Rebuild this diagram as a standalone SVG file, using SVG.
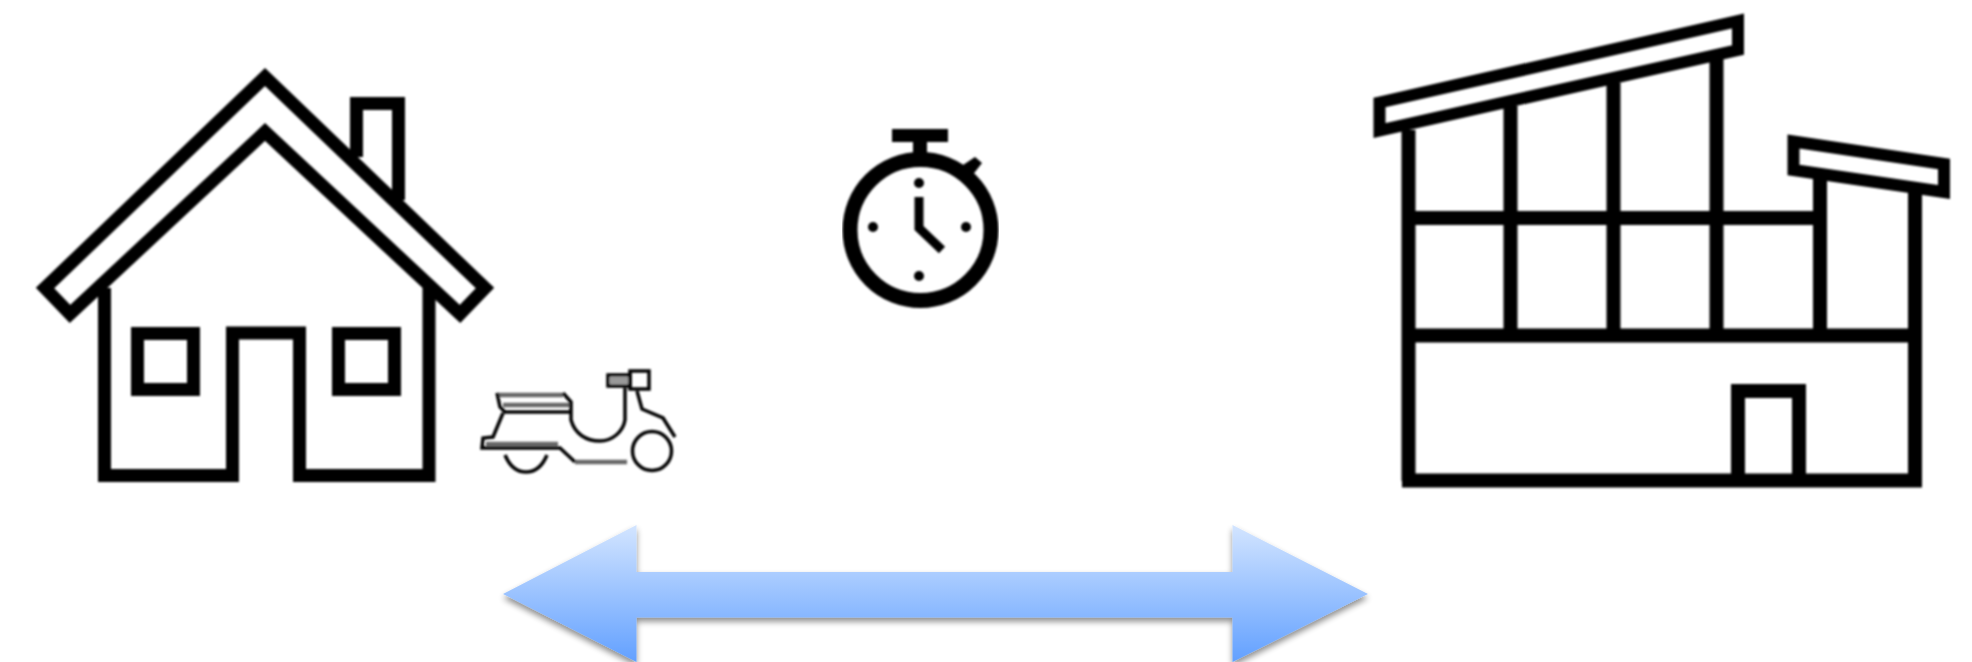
<svg xmlns="http://www.w3.org/2000/svg" width="1972" height="662" viewBox="0 0 1972 662">
<style>
.k{fill:none;stroke:#000;stroke-linejoin:miter;stroke-miterlimit:10}
.h{stroke-width:13}
.r{stroke-width:12}
.f{stroke-width:14}
.s{stroke-width:3.500}
.g{stroke:#666;stroke-width:4.500}
</style>
<defs>
<filter id="soft" x="-5%" y="-5%" width="110%" height="110%"><feGaussianBlur stdDeviation="0.8"/></filter>
<filter id="shadow" x="-5%" y="-20%" width="110%" height="150%"><feGaussianBlur in="SourceAlpha" stdDeviation="3"/><feOffset dy="4"/><feComponentTransfer><feFuncA type="linear" slope="0.45"/></feComponentTransfer><feMerge><feMergeNode/><feMergeNode in="SourceGraphic"/></feMerge></filter>
<linearGradient id="blue" x1="0" y1="0" x2="0" y2="1"><stop offset="0" stop-color="#d3e5ff"/><stop offset="1" stop-color="#62a0ff"/></linearGradient>
</defs>
<rect width="1972" height="662" fill="#fff"/>
<g id="house" filter="url(#soft)">
<path class="k h" d="M356.500 157V103.500H398.500V200"/>
<path class="k h" d="M104.500 288V475.500H232.500V333H299.500V475.500H429V288"/>
<path class="k h" d="M265 77L485 288L460 314L265 132L70 314L45 288Z"/>
<rect class="k h" x="137.500" y="333.500" width="56" height="56"/>
<rect class="k h" x="338.500" y="333.500" width="56" height="56"/>
</g>
<g id="scooter" filter="url(#soft)">
<rect x="610" y="377" width="18" height="7" fill="#999"/>
<path class="k g" d="M497 395H563M503 405H570M486 444H558M575 462H627"/>
<path class="k s" d="M497 393L500 407L505 412H571V402L563 393M571 412V420C575 434 586 441 600 441C612 441 623 432 625 420V388M503 413L493 437L483 438L482 448H560L575 462"/>
<path class="k s" d="M505 455C510 467 517 472 526 472C535 472 542 467 547 455"/>
<circle class="k s" cx="652" cy="451" r="19.500"/>
<path class="k s" d="M637 391L642 409L663 418L675 437"/>
<path class="k s" d="M608 375H630V386H608Z"/>
<path class="k s" d="M630 371H649V389H630Z"/>
</g>
<g id="stopwatch" filter="url(#soft)">
<circle class="k" stroke-width="15" cx="920.500" cy="230" r="70.500"/>
<rect x="892" y="129" width="56" height="13"/>
<rect x="913" y="141" width="14" height="14"/>
<path d="M963 165L975 157L982 163L975 172L970 178Z"/>
<circle cx="919" cy="183" r="5"/><circle cx="919" cy="276" r="5"/><circle cx="873" cy="227" r="5"/><circle cx="966" cy="227" r="5"/>
<path class="k" stroke-width="9" d="M919 197V228L942 250"/>
</g>
<g id="factory" filter="url(#soft)">
<path class="k r" d="M1379.500 102.500L1738 21V50L1379.500 130.500Z"/>
<path class="k r" d="M1793.500 141.500L1944 164V192L1793.500 170Z"/>
<path class="k f" d="M1408.500 130V481M1510.500 106V335M1613.500 83V335M1716.500 55V335M1820 175V335M1915 192V481"/>
<path class="k f" d="M1408.500 218H1820M1408.500 335.500H1915M1402 480.500H1922"/>
<path class="k f" d="M1738 481V391H1799V481"/>
</g>
<g id="connectors">
<path id="double-arrow" fill="url(#blue)" filter="url(#shadow)" d="M503 594L636.500 525V572H1232.500V525L1368 594L1232.500 662V617.500H636.500V662Z"/>
</g>
</svg>
